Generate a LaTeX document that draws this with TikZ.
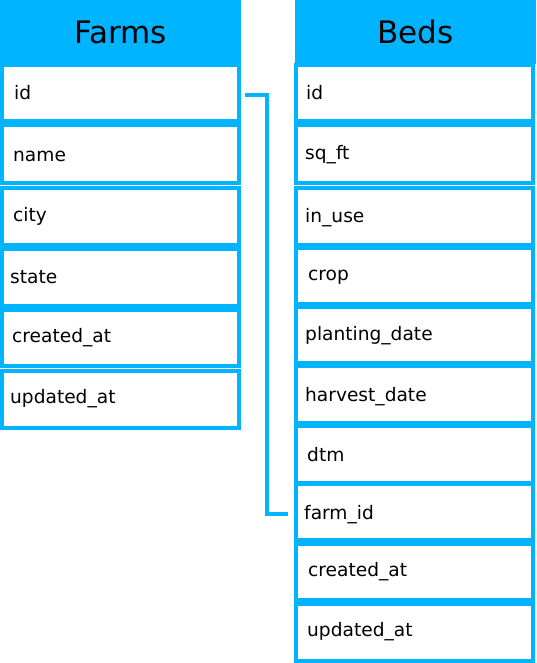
\documentclass[tikz,border=0pt]{standalone}
\usepackage{fontspec}
\setmainfont{DejaVu Sans}
\definecolor{sky}{RGB}{0,180,255}
\newcommand\tabrow[8]{%
  \node[rowbox, minimum width={#5*1pt}, minimum height={(#4-#3)*1pt}] (#1) at (#2,#3) {};
  \node[lbl] (#1-t) at (#2+#6,#7) {#8};
}
\begin{document}
\begin{tikzpicture}[x=1pt,y=-1pt,
  hdr/.style={fill=sky, anchor=north west, inner sep=0pt, outer sep=0pt,
    font=\fontsize{31}{36}\selectfont, text height=22.5pt, text depth=0pt},
  rowbox/.style={draw=sky, line width=3.5pt, fill=white, anchor=north west,
    inner sep=0pt, outer sep=0pt},
  lbl/.style={anchor=base west, inner sep=0pt, font=\fontsize{18.6}{22}\selectfont},
  conn/.style={draw=sky, line width=4pt}]
\useasboundingbox (0,0) rectangle (536,663);
% headers
\node[hdr, minimum width=241pt, minimum height=64pt] (farms) at (0,0) {Farms};
\node[hdr, minimum width=241pt, minimum height=64pt] (beds) at (295,0) {Beds};
% Farms rows
\tabrow{fid}{2}{65}{121}{237}{12}{100}{id}
\tabrow{fname}{2}{125}{183}{237}{11}{162}{name}
\tabrow{fcity}{2}{188}{245}{237}{11}{221}{city}
\tabrow{fstate}{2}{249}{306}{237}{8}{283}{state}
\tabrow{fcreated}{2}{310}{366}{237}{10}{342}{created\_at}
\tabrow{fupdated}{2}{371}{428}{237}{8}{403}{updated\_at}
% Beds rows
\tabrow{bid}{296}{65}{121}{237}{10}{100}{id}
\tabrow{bsqft}{296}{125}{183}{237}{9}{160}{sq\_ft}
\tabrow{binuse}{296}{188}{245}{237}{9}{222}{in\_use}
\tabrow{bcrop}{296}{248}{304}{237}{12}{280}{crop}
\tabrow{bplanting}{296}{307}{363}{237}{9}{340}{planting\_date}
\tabrow{bharvest}{296}{366}{423}{237}{9}{401}{harvest\_date}
\tabrow{bdtm}{296}{426}{483}{237}{11}{461}{dtm}
\tabrow{bfarm}{296}{484}{540}{237}{8}{519}{farm\_id}
\tabrow{bcreated}{296}{544}{600}{237}{12}{576}{created\_at}
\tabrow{bupdated}{296}{604}{661}{237}{11}{636}{updated\_at}
% connector
\draw[conn] ([xshift=6pt,yshift=-2pt]fid.east) -- ++(22,0) |- ([xshift=-8pt,yshift=-2pt]bfarm.west);
\end{tikzpicture}
\end{document}
